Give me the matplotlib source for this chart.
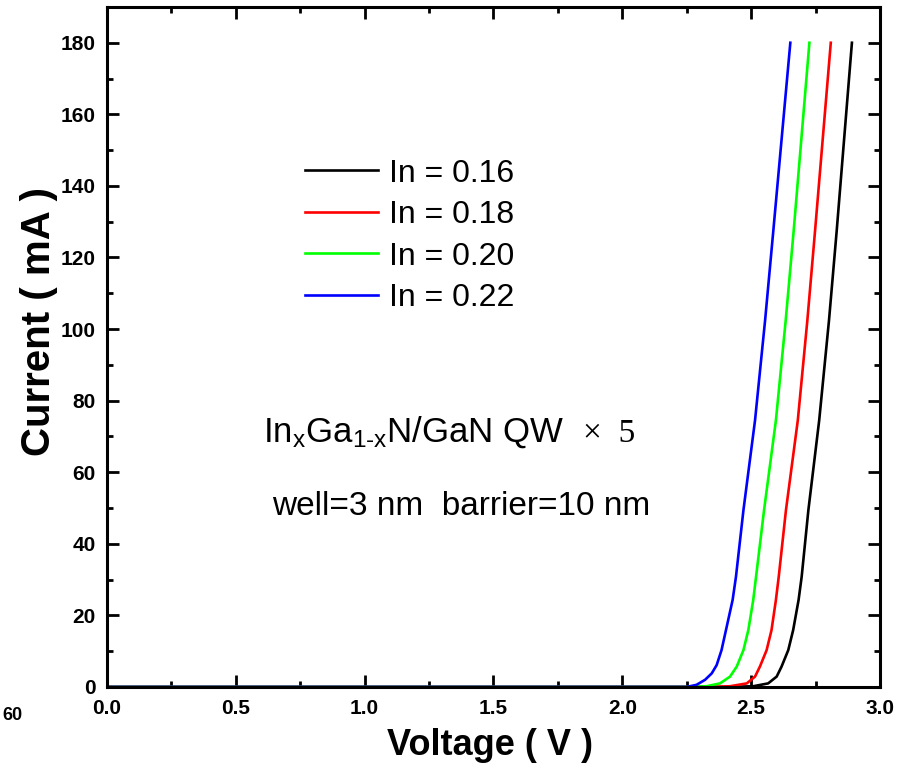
import numpy as np
import matplotlib
matplotlib.use("Agg")
import matplotlib.pyplot as plt
from matplotlib.ticker import MultipleLocator

plt.rcParams['font.family'] = ['Liberation Sans', 'DejaVu Sans']
plt.rcParams['mathtext.fontset'] = 'custom'
plt.rcParams['mathtext.rm'] = 'Liberation Sans'
plt.rcParams['mathtext.it'] = 'Liberation Sans:italic'

# I-V curves (voltage in V, current in mA)
v_016 = [0.0, 2.40, 2.508, 2.566, 2.599, 2.618, 2.644, 2.663, 2.684, 2.696, 2.722, 2.764, 2.802, 2.832, 2.891]
i_016 = [0, 0, 0.2, 1.0, 2.9, 5.7, 10.3, 15.9, 24.3, 30.8, 49.4, 74.5, 102.4, 127.5, 180]

v_018 = [0.0, 2.33, 2.418, 2.483, 2.515, 2.534, 2.560, 2.579, 2.596, 2.607, 2.635, 2.681, 2.718, 2.748, 2.809]
i_018 = [0, 0, 0.2, 1.0, 2.9, 5.7, 10.3, 15.9, 24.3, 30.8, 49.4, 74.5, 102.4, 127.5, 180]

v_020 = [0.0, 2.25, 2.327, 2.379, 2.418, 2.444, 2.470, 2.489, 2.508, 2.519, 2.550, 2.596, 2.634, 2.665, 2.726]
i_020 = [0, 0, 0.2, 1.0, 2.9, 5.7, 10.3, 15.9, 24.3, 30.8, 49.4, 74.5, 102.4, 127.5, 180]

v_022 = [0.0, 2.20, 2.25, 2.288, 2.321, 2.347, 2.366, 2.385, 2.405, 2.428, 2.441, 2.470, 2.515, 2.554, 2.586, 2.652]
i_022 = [0, 0, 0, 0.6, 2.0, 3.8, 6.1, 10.3, 16.8, 24.3, 30.8, 49.4, 74.5, 102.4, 127.5, 180]

labels = ["In = 0.16", "In = 0.18", "In = 0.20", "In = 0.22"]
colors = ["#000000", "#ff0000", "#00ff00", "#0000ff"]

fig = plt.figure(figsize=(9.09, 7.73), dpi=100)
ax = fig.add_axes([0.1177, 0.1113, 0.8504, 0.8797])

for v, i, lab, c in zip([v_016, v_018, v_020, v_022], [i_016, i_018, i_020, i_022], labels, colors):
    ax.plot(v, i, color=c, lw=1.9, label=lab)

ax.set_xlim(0, 3.0)
ax.set_ylim(0, 190)
ax.xaxis.set_major_locator(MultipleLocator(0.5))
ax.xaxis.set_minor_locator(MultipleLocator(0.25))
ax.yaxis.set_major_locator(MultipleLocator(20))
ax.yaxis.set_minor_locator(MultipleLocator(10))
ax.set_xticks(np.arange(0, 3.01, 0.5))
ax.set_xticklabels(["0.0", "0.5", "1.0", "1.5", "2.0", "2.5", "3.0"])
ax.set_yticks(np.arange(0, 181, 20))

for s in ax.spines.values():
    s.set_linewidth(2.2)
ax.tick_params(which='both', direction='in', top=True, right=True, width=2.0)
ax.tick_params(which='major', length=8.6)
ax.tick_params(which='minor', length=4.3)
ax.tick_params(axis='y', pad=8)
ax.tick_params(axis='x', pad=9)
for t in ax.get_xticklabels() + ax.get_yticklabels():
    t.set_fontweight('bold')
    t.set_fontsize(15)

ax.text(0.4955, -0.0868, "Voltage ( V )", transform=ax.transAxes, ha='center', va='center',
        fontsize=26, fontweight='bold')
ax.text(-0.088, 0.537, "Current ( mA )", transform=ax.transAxes, ha='center', va='center',
        rotation=90, fontsize=29, fontweight='bold')

leg = ax.legend(loc='upper left', bbox_to_anchor=(0.256, 0.777), frameon=False, fontsize=23,
                handlelength=2.3, handletextpad=0.32, labelspacing=0.36, borderpad=0,
                borderaxespad=0)

ax.text(0.2018, 0.3607, r"$\mathrm{In_{x}Ga_{1\text{-}x}N/GaN\ QW}$", transform=ax.transAxes,
        ha='left', va='baseline', fontsize=25)
ax.text(0.616, 0.3607, "\u00d7  5", transform=ax.transAxes, ha='left', va='baseline',
        fontsize=24, family='Liberation Serif')
ax.text(0.213, 0.253, "well=3 nm  barrier=10 nm", transform=ax.transAxes, ha='left',
        va='baseline', fontsize=24)

# stray label at the lower left edge of the original
fig.text(2 / 909, 1 - 715 / 773, "60", ha='left', va='center', fontsize=13, fontweight='bold')

fig.savefig("out.png", dpi=100)
